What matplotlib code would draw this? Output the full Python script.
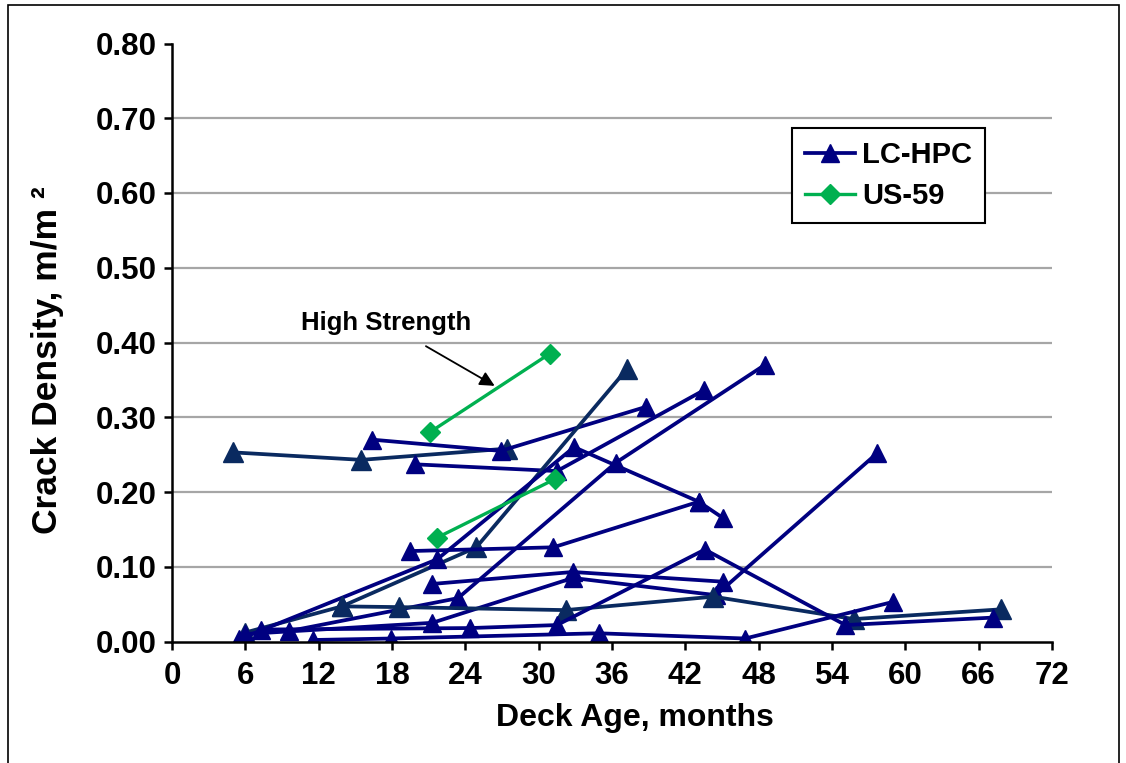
import matplotlib
matplotlib.use("Agg")
import matplotlib.pyplot as plt
from matplotlib.patches import Rectangle

# deck age (months) and crack density (m/m^2), one pair per bridge deck survey
# LC-HPC decks
deck1_age = [5.0, 15.5, 27.4]
deck1_cd = [0.253, 0.243, 0.258]
deck2_age = [16.4, 26.9, 38.8]
deck2_cd = [0.270, 0.255, 0.314]
deck3_age = [19.9, 31.5, 43.5]
deck3_cd = [0.237, 0.228, 0.336]
deck4_age = [6.0, 13.9, 24.9, 37.2]
deck4_cd = [0.012, 0.047, 0.126, 0.364]
deck5_age = [9.6, 23.4, 36.3, 48.5]
deck5_cd = [0.014, 0.058, 0.239, 0.370]
deck6_age = [5.5, 21.7, 32.9, 43.1, 45.1]
deck6_cd = [0.003, 0.110, 0.260, 0.187, 0.165]
deck7_age = [19.5, 31.2, 43.1]
deck7_cd = [0.121, 0.126, 0.187]
deck8_age = [21.3, 32.8, 45.1]
deck8_cd = [0.077, 0.093, 0.080]
deck9_age = [6.0, 21.3, 32.8, 44.5, 57.7]
deck9_cd = [0.010, 0.025, 0.085, 0.062, 0.252]
deck10_age = [13.9, 18.6, 32.2, 44.3, 55.8, 67.8]
deck10_cd = [0.047, 0.046, 0.042, 0.060, 0.030, 0.043]
deck11_age = [7.3, 24.4, 31.5, 43.6, 55.1, 67.2]
deck11_cd = [0.016, 0.018, 0.022, 0.123, 0.022, 0.032]
deck12_age = [11.5, 17.9, 34.9, 46.9, 59.0]
deck12_cd = [0.002, 0.004, 0.011, 0.004, 0.053]

# US-59 decks
us59a_age = [21.1, 30.9]
us59a_cd = [0.280, 0.385]
us59b_age = [21.7, 31.3]
us59b_cd = [0.139, 0.217]

navy = '#000080'
dark = '#0a2a60'
green = '#00b050'

lc_series = [
    (deck1_age, deck1_cd, dark),
    (deck2_age, deck2_cd, navy),
    (deck3_age, deck3_cd, navy),
    (deck4_age, deck4_cd, dark),
    (deck5_age, deck5_cd, navy),
    (deck6_age, deck6_cd, navy),
    (deck7_age, deck7_cd, navy),
    (deck8_age, deck8_cd, navy),
    (deck9_age, deck9_cd, navy),
    (deck10_age, deck10_cd, dark),
    (deck11_age, deck11_cd, navy),
    (deck12_age, deck12_cd, navy),
]

plt.rcParams['font.family'] = ['Liberation Sans', 'DejaVu Sans']
plt.rcParams['font.weight'] = 'bold'

fig = plt.figure(figsize=(11.26, 7.63), dpi=100)
ax = fig.add_axes([172 / 1126, 1 - 641.5 / 763, 880 / 1126, 598 / 763])

for i, (xs, ys, c) in enumerate(lc_series):
    ms = 14 if c == dark else 12.5
    ax.plot(xs, ys, color=c, lw=2.7, marker='^', ms=ms, mfc=c, mec=c,
            label='LC-HPC' if i == 1 else None, zorder=3)

ax.plot(us59a_age, us59a_cd, color=green, lw=2.4, marker='D', ms=10,
        label='US-59', zorder=3)
ax.plot(us59b_age, us59b_cd, color=green, lw=2.4, marker='D', ms=10, zorder=3)

ax.set_xlim(0, 72)
ax.set_ylim(0, 0.8)
ax.set_xticks(range(0, 73, 6))
ax.set_yticks([i / 10 for i in range(9)])
ax.set_yticklabels([f'{i / 10:.2f}' for i in range(9)])

for y in [i / 10 for i in range(1, 8)]:
    ax.axhline(y, color='#a6a6a6', lw=1.6, zorder=1)

for s in ['top', 'right']:
    ax.spines[s].set_visible(False)
for s in ['left', 'bottom']:
    ax.spines[s].set_linewidth(1.8)
    ax.spines[s].set_color('black')
    ax.spines[s].set_zorder(4)

ax.tick_params(axis='both', direction='out', length=6, width=1.8, labelsize=22.5)
ax.tick_params(axis='x', pad=8)
ax.tick_params(axis='y', pad=5)

ax.set_xlabel('Deck Age, months', fontsize=23, fontweight='bold')
ax.xaxis.set_label_coords(0.526, -0.103)
ax.set_ylabel('Crack Density, m/m ²', fontsize=25.5, fontweight='bold')
ax.yaxis.set_label_coords(-0.123, 0.47)

ax.annotate('High Strength', xy=(26.4, 0.342), xytext=(17.5, 0.426),
            fontsize=18.5, fontweight='bold', ha='center', va='center',
            arrowprops=dict(arrowstyle='-|>', color='black', lw=1.3,
                            mutation_scale=22, shrinkA=12, shrinkB=0))

leg = ax.legend(loc='upper left', bbox_to_anchor=(0.7045, 0.859),
                borderaxespad=0, fontsize=21, handlelength=1.7,
                labelspacing=0.45, handletextpad=0.25, borderpad=0.45,
                fancybox=False, framealpha=1)
leg.get_frame().set_edgecolor('black')
leg.get_frame().set_linewidth(1.5)

fig.patches.append(Rectangle((8 / 1126, -0.01), 1111 / 1126, 1 - 5 / 763 + 0.01,
                             transform=fig.transFigure, fill=False,
                             edgecolor='black', lw=1.2))

fig.savefig('out.png', dpi=100)
